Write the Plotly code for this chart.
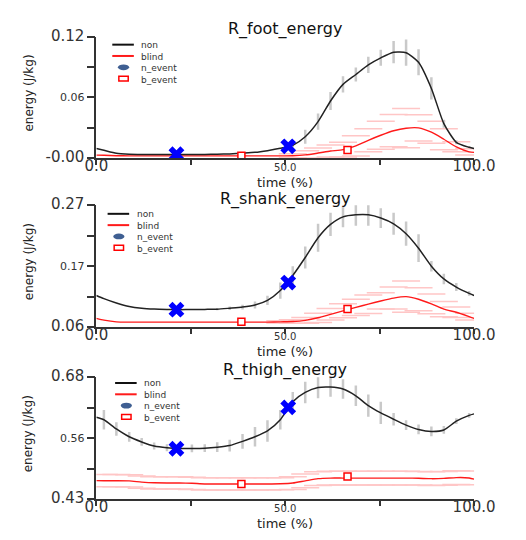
import plotly.graph_objects as go

# ---------------- data ----------------
time_pct = [0, 2, 5.3, 8.7, 12, 15.3, 18.7, 22, 25.3, 28.7, 32, 35.3, 38.7, 42, 45.3, 48.7,
            52, 55.3, 58.7, 62, 65.3, 68.7, 72, 75.3, 78.7, 82, 85.3, 88.7, 92, 95.3, 98.7, 100]

foot_non = [0.0093, 0.0075, 0.0045, 0.0037, 0.0035, 0.0035, 0.0035, 0.0035, 0.0035, 0.0035, 0.0036,
            0.0040, 0.0047, 0.0055, 0.0072, 0.0095, 0.0125, 0.021, 0.036, 0.0565, 0.073, 0.0828,
            0.0924, 0.0994, 0.1050, 0.1045, 0.0950, 0.0690, 0.0340, 0.0155, 0.0105, 0.0093]
foot_non_sd = [0, 0, 0, 0, 0, 0, 0, 0, 0, 0, 0, 0, 0, 0, 0, 0,
               0.002, 0.007, 0.008, 0.009, 0.008, 0.007, 0.008, 0.008, 0.011, 0.013, 0.013, 0.011,
               0.004, 0.002, 0.001, 0]
foot_blind = [0.0028, 0.0026, 0.0022, 0.0020, 0.0020, 0.0020, 0.0020, 0.0020, 0.0020, 0.0020, 0.0020,
              0.0020, 0.0020, 0.0020, 0.0020, 0.0020, 0.0022, 0.0030, 0.0048, 0.0068, 0.0082, 0.0120,
              0.0175, 0.0225, 0.0270, 0.0295, 0.0298, 0.0255, 0.0185, 0.0110, 0.0060, 0.0055]
foot_blind_sd = [0, 0, 0, 0, 0, 0, 0, 0, 0, 0, 0, 0, 0, 0, 0, 0,
                 0.002, 0.004, 0.005, 0.006, 0.0074, 0.010, 0.0115, 0.014, 0.016, 0.0195, 0.013, 0.011,
                 0.0105, 0.005, 0.003, 0]

shank_non = [0.1145, 0.109, 0.1015, 0.0955, 0.0925, 0.091, 0.0903, 0.0900, 0.0903, 0.0905, 0.0908,
             0.0925, 0.0945, 0.098, 0.106, 0.123, 0.149, 0.180, 0.214, 0.237, 0.250, 0.2535,
             0.2535, 0.248, 0.238, 0.221, 0.196, 0.165, 0.143, 0.129, 0.118, 0.1145]
shank_non_sd = [0, 0, 0, 0, 0, 0, 0, 0, 0, 0, 0.002, 0.003, 0.004, 0.006, 0.008, 0.014,
                0.016, 0.019, 0.024, 0.020, 0.018, 0.019, 0.019, 0.017, 0.019, 0.021, 0.024, 0.009,
                0.009, 0.007, 0.004, 0]
shank_blind = [0.075, 0.072, 0.069, 0.0685, 0.0685, 0.0685, 0.0685, 0.0685, 0.0685, 0.0685, 0.0685,
               0.0685, 0.0685, 0.0685, 0.0685, 0.069, 0.0695, 0.0715, 0.076, 0.082, 0.088, 0.094,
               0.0995, 0.105, 0.110, 0.1125, 0.108, 0.100, 0.091, 0.0855, 0.078, 0.075]
shank_blind_sd = [0, 0, 0, 0, 0, 0, 0, 0, 0, 0, 0, 0, 0, 0, 0, 0.002,
                  0.003, 0.005, 0.008, 0.010, 0.012, 0.014, 0.016, 0.014, 0.019, 0.027, 0.020, 0.017,
                  0.013, 0.009, 0.006, 0]

thigh_non = [0.598, 0.593, 0.574, 0.558, 0.5474, 0.539, 0.5355, 0.534, 0.534, 0.5345, 0.5365,
             0.540, 0.5485, 0.558, 0.570, 0.593, 0.630, 0.649, 0.659, 0.660, 0.656, 0.642,
             0.622, 0.607, 0.594, 0.582, 0.573, 0.569, 0.572, 0.590, 0.602, 0.605]
thigh_non_sd = [0, 0.020, 0.014, 0.010, 0.008, 0.007, 0.007, 0.007, 0.008, 0.008, 0.010, 0.012,
                0.015, 0.020, 0.022, 0.020, 0.020, 0.022, 0.022, 0.020, 0.020, 0.021, 0.023, 0.023,
                0.013, 0.010, 0.010, 0.010, 0.008, 0.006, 0.005, 0]
thigh_blind = [0.468, 0.4678, 0.4678, 0.4675, 0.465, 0.4635, 0.4632, 0.4632, 0.4625, 0.4612, 0.4612,
               0.4612, 0.4612, 0.4612, 0.4612, 0.4615, 0.463, 0.4675, 0.472, 0.4732, 0.4732, 0.4732,
               0.4732, 0.4732, 0.4732, 0.4732, 0.4728, 0.472, 0.4725, 0.4742, 0.4735, 0.471]
thigh_blind_sd = [0, 0.0125, 0.0125, 0.0125, 0.0125, 0.0125, 0.0125, 0.0125, 0.0125, 0.0125, 0.0125,
                  0.0125, 0.0125, 0.0125, 0.0125, 0.0125, 0.013, 0.014, 0.014, 0.014, 0.014, 0.014,
                  0.014, 0.014, 0.014, 0.014, 0.014, 0.014, 0.014, 0.014, 0.014, 0]

n_event_time = [21.2, 50.8]
b_event_time = [38.4, 66.5]
foot_n_event = [0.0037, 0.0115]
foot_b_event = [0.0022, 0.0078]
shank_n_event = [0.0900, 0.1367]
shank_b_event = [0.0692, 0.0912]
thigh_n_event = [0.5334, 0.6183]
thigh_b_event = [0.4612, 0.4765]

titles = ["R_foot_energy", "R_shank_energy", "R_thigh_energy"]
y_ranges = [[0.0, 0.12], [0.06, 0.27], [0.43, 0.68]]
y_tick_labels = [["-0.00", "0.06", "0.12"], ["0.06", "0.17", "0.27"], ["0.43", "0.56", "0.68"]]
x_tick_labels = ["0.0", "50.0", "100.0"]
legend_names = ["non", "blind", "n_event", "b_event"]

panels = [
    (foot_non, foot_non_sd, foot_blind, foot_blind_sd, foot_n_event, foot_b_event),
    (shank_non, shank_non_sd, shank_blind, shank_blind_sd, shank_n_event, shank_b_event),
    (thigh_non, thigh_non_sd, thigh_blind, thigh_blind_sd, thigh_n_event, thigh_b_event),
]

# ---------------- layout geometry (pixels) ----------------
W, H = 526, 540
X0, X1 = 90, 493
plot_tops = [28, 202, 380]
plot_bots = [153, 328, 506]
title_off = [8, 6.5, 8]
legend_top = [29, 204, 379]
legend_left = [107, 102, 110]
LEG_FS = 9
LEG_LH = 1.3 * LEG_FS
FONT = "DejaVu Sans"


def px(xp):
    return xp / W


def py(yp):
    return 1 - yp / H


fig = go.Figure()
layout = dict(width=W, height=H, margin=dict(l=0, r=0, t=0, b=0),
              paper_bgcolor="white", plot_bgcolor="white", showlegend=False,
              font=dict(family=FONT, color="#222"))
annotations = []
shapes = []

for i, (non, non_sd, blind, blind_sd, n_ev, b_ev) in enumerate(panels):
    k = "" if i == 0 else str(i + 1)
    xa, ya = "x" + k, "y" + k
    lo, hi = y_ranges[i]
    step = (hi - lo) / 4
    yt = [lo + step * j for j in range(5)]
    ylab = y_tick_labels[i]
    big = "<span style='font-size:15px'>%s</span>"
    layout["xaxis" + k] = dict(
        domain=[px(X0), px(X1)], anchor=ya, range=[0, 100],
        tickvals=[0, 25, 50, 75, 100],
        ticktext=[big % x_tick_labels[0], "", x_tick_labels[1], "", big % x_tick_labels[2]],
        ticks="outside", ticklen=5, tickwidth=1.5, tickcolor="#333", ticklabelstandoff=-6,
        showline=True, linecolor="#333", linewidth=1.5, showgrid=False, zeroline=False,
        tickfont=dict(size=10, color="#333", family=FONT), fixedrange=True)
    layout["yaxis" + k] = dict(
        domain=[py(plot_bots[i]), py(plot_tops[i])], anchor=xa, range=[lo, hi],
        tickvals=yt, ticktext=[big % ylab[0], "", ylab[1], "", big % ylab[2]],
        ticks="outside", ticklen=8, tickwidth=1.5, tickcolor="#333",
        showline=True, linecolor="#333", linewidth=1.5, showgrid=False, zeroline=False,
        tickfont=dict(size=11, color="#333", family=FONT), fixedrange=True)

    # pink caps for blind spread
    cx, cy = [], []
    for t, m, s in zip(time_pct, blind, blind_sd):
        if s > 0:
            cx += [t, t]
            cy += [m + s, m - s]
    fig.add_trace(go.Scatter(x=cx, y=cy, xaxis=xa, yaxis=ya, mode="markers",
                             marker=dict(symbol="line-ew-open", size=20, color="#ffc6c6",
                                         line=dict(color="#ffc6c6", width=1.5)),
                             hoverinfo="skip"))
    # gray bars for non spread
    gx = [t for t, s in zip(time_pct, non_sd) if s > 0]
    gy = [m for m, s in zip(non, non_sd) if s > 0]
    gs = [s for s in non_sd if s > 0]
    fig.add_trace(go.Scatter(x=gx, y=gy, xaxis=xa, yaxis=ya, mode="markers",
                             marker=dict(size=1, color="rgba(0,0,0,0)"),
                             error_y=dict(type="data", array=gs, visible=True,
                                          color="#c9c9c9", thickness=2.5, width=0),
                             hoverinfo="skip"))
    fig.add_trace(go.Scatter(x=time_pct, y=blind, xaxis=xa, yaxis=ya, mode="lines",
                             name="blind",
                             line=dict(color="#ff1a1a", width=1.4, shape="spline", smoothing=0.6)))
    fig.add_trace(go.Scatter(x=time_pct, y=non, xaxis=xa, yaxis=ya, mode="lines",
                             name="non",
                             line=dict(color="#222222", width=1.5, shape="spline", smoothing=0.6)))
    fig.add_trace(go.Scatter(x=n_event_time, y=n_ev, xaxis=xa, yaxis=ya, mode="markers",
                             name="n_event",
                             marker=dict(symbol="x", size=14, color="#0000ff", line=dict(width=0))))
    fig.add_trace(go.Scatter(x=b_event_time, y=b_ev, xaxis=xa, yaxis=ya, mode="markers",
                             name="b_event",
                             marker=dict(symbol="square", size=7, color="white",
                                         line=dict(color="#ff0000", width=1.5))))

    # subplot title
    annotations.append(dict(text=titles[i], xref="paper", yref="paper",
                            x=px((X0 + X1) / 2), y=py(plot_tops[i] - title_off[i]),
                            xanchor="center", yanchor="middle", showarrow=False,
                            font=dict(size=16, color="#111", family=FONT)))
    # axis titles
    annotations.append(dict(text="time (%)", xref="paper", yref="paper",
                            x=px((X0 + X1) / 2), y=py(plot_bots[i] + 25),
                            xanchor="center", yanchor="middle", showarrow=False,
                            font=dict(size=13, color="#222", family=FONT)))
    annotations.append(dict(text="energy (J/kg)", xref="paper", yref="paper",
                            x=px(18), y=py((plot_tops[i] + plot_bots[i]) / 2 - 5),
                            xanchor="center", yanchor="middle", showarrow=False,
                            textangle=-90,
                            font=dict(size=12, color="#222", family=FONT)))

    # legend (drawn): one multi-line text plus sample marks
    x0l = legend_left[i]
    ltop = legend_top[i]
    annotations.append(dict(text="<br>".join(legend_names), xref="paper", yref="paper",
                            x=px(x0l + 29), y=py(ltop), xanchor="left", yanchor="top",
                            align="left", showarrow=False,
                            font=dict(size=LEG_FS, color="#333", family=FONT)))
    for r in range(len(legend_names)):
        yr = ltop + 1 + LEG_LH * (r + 0.5)
        if r == 0 or r == 1:
            shapes.append(dict(type="line", xref="paper", yref="paper",
                               x0=px(x0l), x1=px(x0l + 23), y0=py(yr), y1=py(yr),
                               line=dict(color="#111" if r == 0 else "#ff1a1a", width=2)))
        elif r == 2:
            shapes.append(dict(type="circle", xref="paper", yref="paper",
                               x0=px(x0l + 6), x1=px(x0l + 18), y0=py(yr + 3), y1=py(yr - 3),
                               fillcolor="#3f5f92", line=dict(width=0)))
        else:
            shapes.append(dict(type="rect", xref="paper", yref="paper",
                               x0=px(x0l + 7), x1=px(x0l + 17), y0=py(yr + 2.5), y1=py(yr - 2.5),
                               fillcolor="white", line=dict(color="#ff0000", width=1.5)))

layout["annotations"] = annotations
layout["shapes"] = shapes
fig.update_layout(**layout)

fig.write_html("out.html", config={"displayModeBar": False},
               post_script="document.body.style.margin='0';")
